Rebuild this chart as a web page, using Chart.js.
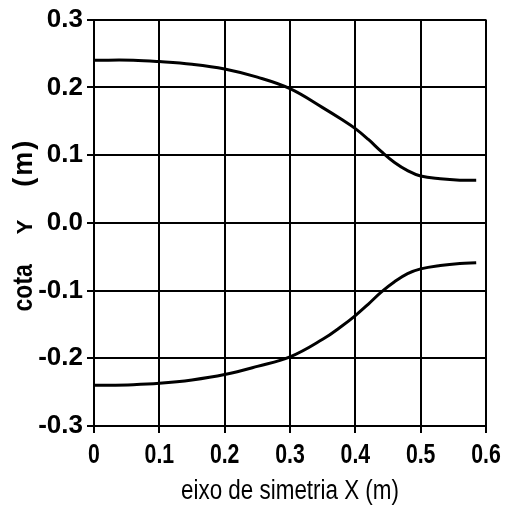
<!DOCTYPE html>
<html>
<head>
<meta charset="utf-8">
<script src="https://cdn.jsdelivr.net/npm/chart.js@4.4.1/dist/chart.umd.min.js"></script>
<style>
html,body{margin:0;padding:0;background:#fff;}
#wrap{width:511px;height:511px;}
</style>
</head>
<body>
<div id="wrap"><canvas id="c" width="511" height="511"></canvas></div>
<script>
const xUpper = [0, 0.06, 0.1, 0.15, 0.2, 0.25, 0.3, 0.35, 0.38, 0.4, 0.42, 0.44, 0.46, 0.48, 0.5, 0.53, 0.56, 0.585];
const yUpper = [0.240, 0.240, 0.238, 0.234, 0.227, 0.215, 0.198, 0.170, 0.152, 0.139, 0.123, 0.105, 0.089, 0.077, 0.069, 0.065, 0.063, 0.063];
const xLower = [0, 0.06, 0.1, 0.15, 0.2, 0.25, 0.3, 0.35, 0.38, 0.4, 0.42, 0.44, 0.46, 0.48, 0.5, 0.53, 0.56, 0.585];
const yLower = [-0.240, -0.239, -0.237, -0.232, -0.224, -0.212, -0.198, -0.172, -0.152, -0.137, -0.120, -0.102, -0.087, -0.075, -0.068, -0.063, -0.060, -0.059];
const xTicks = [0, 0.1, 0.2, 0.3, 0.4, 0.5, 0.6];
const yTicks = [-0.3, -0.2, -0.1, 0.0, 0.1, 0.2, 0.3];
const xTitle = 'eixo de simetria X (m)';
const yTitle = 'cota Y (m)';

const toPts = (xs, ys) => xs.map((x, i) => ({x: x, y: ys[i]}));
const fam = '"Liberation Sans", Arial, sans-serif';

const canvas = document.getElementById('c');
const c2d = canvas.getContext('2d');
// narrow the plotter-style lettering of the x axis horizontally
const origFill = c2d.fillText.bind(c2d);
c2d.fillText = function (text, x, y, maxW) {
  const f = this.font;
  let sx = 1;
  if (f.indexOf('28px') >= 0) sx = 0.76;      // x tick labels
  else if (f.indexOf('27px') >= 0 && f.indexOf('bold') < 0) sx = 0.83; // x title
  if (sx === 1) return origFill(text, x, y, maxW);
  this.save();
  this.translate(x, y);
  this.scale(sx, 1);
  origFill(text, 0, 0);
  this.restore();
};

const yTitlePlugin = {
  id: 'yTitle',
  afterDraw(chart) {
    const ctx = chart.ctx;
    const a = chart.chartArea;
    const words = yTitle.split(' ');
    // plotter lettering: words spread along the rotated baseline
    const centres = [-65, -4, 60];
    const sizes = [27, 22, 27];
    const squeeze = [0.85, 1, 1];
    const spacing = ['0px', '0px', '2px'];
    ctx.save();
    ctx.translate(32, (a.top + a.bottom) / 2);
    ctx.rotate(-Math.PI / 2);
    ctx.fillStyle = '#000';
    ctx.textAlign = 'center';
    ctx.textBaseline = 'alphabetic';
    words.forEach((w, i) => {
      ctx.save();
      ctx.translate(centres[i], 0);
      ctx.scale(squeeze[i], 1);
      ctx.font = 'bold ' + sizes[i] + 'px "Liberation Sans", Arial, sans-serif';
      ctx.letterSpacing = spacing[i];
      origFill(w, 0, 0);
      ctx.restore();
    });
    ctx.restore();
  }
};

new Chart(canvas, {
  type: 'scatter',
  data: {
    datasets: [
      {data: toPts(xUpper, yUpper), showLine: true, borderColor: '#000', borderWidth: 3, pointRadius: 0, tension: 0.4, fill: false},
      {data: toPts(xLower, yLower), showLine: true, borderColor: '#000', borderWidth: 3, pointRadius: 0, tension: 0.4, fill: false}
    ]
  },
  options: {
    responsive: false,
    animation: false,
    devicePixelRatio: 1,
    layout: {padding: {top: 16, right: 25, left: 0, bottom: 0}},
    plugins: {legend: {display: false}, tooltip: {enabled: false}},
    scales: {
      x: {
        type: 'linear', min: 0, max: 0.6,
        afterBuildTicks(s) { s.ticks = xTicks.map(v => ({value: v})); },
        afterFit(s) { s.height = 85; },
        grid: {color: '#000', lineWidth: 2, tickLength: 7, drawTicks: true},
        border: {color: '#000', width: 2},
        ticks: {
          color: '#000', padding: 5, maxRotation: 0,
          font: {family: fam, size: 28, weight: 'bold'},
          callback: v => v === 0 ? '0' : v.toFixed(1)
        },
        title: {display: true, text: xTitle, color: '#000', padding: {top: 0, bottom: 3},
          font: {family: fam, size: 27}}
      },
      y: {
        type: 'linear', min: -0.3, max: 0.3,
        afterBuildTicks(s) { s.ticks = yTicks.map(v => ({value: v})); },
        afterFit(s) { s.width = 94; },
        grid: {color: '#000', lineWidth: 2, tickLength: 7, drawTicks: true},
        border: {color: '#000', width: 2},
        ticks: {
          color: '#000', padding: 4,
          font: {family: fam, size: 26, weight: 'bold'},
          callback: v => (Math.abs(v) < 1e-9 ? 0 : v).toFixed(1)
        }
      }
    }
  },
  plugins: [yTitlePlugin]
});
</script>
</body>
</html>
